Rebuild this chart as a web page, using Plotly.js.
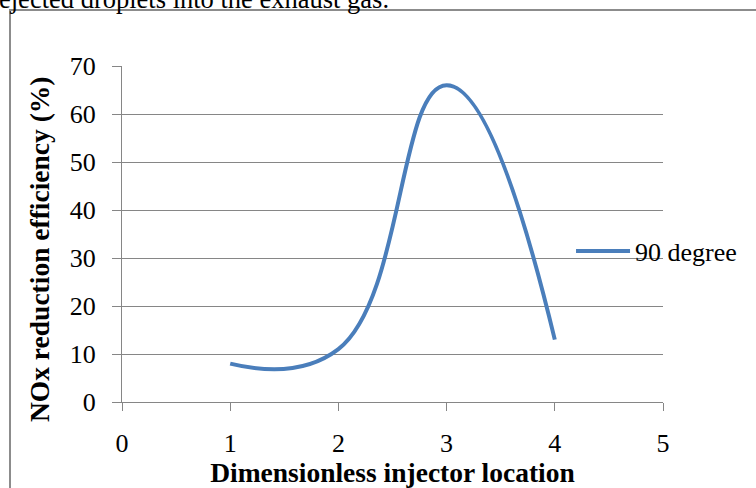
<!DOCTYPE html>
<html>
<head>
<meta charset="utf-8">
<script src="https://cdn.plot.ly/plotly-3.0.1.min.js"></script>
<style>html,body{margin:0;padding:0;background:#fff;}#chart{width:756px;height:488px;}</style>
</head>
<body>
<div id="chart"></div>
<script>
// Data
const injectorLocation = [1, 2, 3, 4];
const noxReduction = [8, 11, 66, 13];
const seriesName = "90 degree";
const xTicks = [0, 1, 2, 3, 4, 5];
const yTicks = [0, 10, 20, 30, 40, 50, 60, 70];
const xTitle = "Dimensionless injector location";
const yTitle = "NOx reduction efficiency (%)";
const captionText = "ejected droplets into the exhaust gas.";

const FONT = "Liberation Serif";
const AXIS_GREY = "#868686";
const TICK_SIZE = 26;
const TITLE_SIZE = 27.5;

const trace = {
  x: injectorLocation,
  y: noxReduction,
  name: seriesName,
  type: "scatter",
  mode: "lines",
  line: {color: "#4A7EBB", width: 4, shape: "spline", smoothing: 1.3},
  showlegend: true
};

const layout = {
  width: 756,
  height: 488,
  margin: {l: 122, r: 93, t: 66, b: 86},
  paper_bgcolor: "#fff",
  plot_bgcolor: "#fff",
  font: {family: FONT, size: TICK_SIZE, color: "#000"},
  showlegend: true,
  legend: {
    x: 0.83, y: (402 - 251) / 336, xanchor: "left", yanchor: "middle",
    itemwidth: 54,
    bgcolor: "rgba(0,0,0,0)", borderwidth: 0,
    font: {family: FONT, size: 26, color: "#000"}
  },
  xaxis: {
    range: [0, 5],
    tickvals: xTicks,
    ticks: "outside", ticklen: 8, tickcolor: AXIS_GREY, tickwidth: 1,
    ticklabelstandoff: 10,
    showline: true, linecolor: AXIS_GREY, linewidth: 1,
    showgrid: false, zeroline: false,
    tickfont: {family: FONT, size: TICK_SIZE, color: "#000"},
    title: {text: xTitle, font: {family: FONT, size: TITLE_SIZE, color: "#000", weight: "bold"}, standoff: 1}
  },
  yaxis: {
    range: [0, 70],
    tickvals: yTicks,
    ticks: "outside", ticklen: 9, tickcolor: AXIS_GREY, tickwidth: 1,
    ticklabelstandoff: 11,
    showline: true, linecolor: AXIS_GREY, linewidth: 1,
    showgrid: true, gridcolor: AXIS_GREY, gridwidth: 1, zeroline: false,
    tickfont: {family: FONT, size: TICK_SIZE, color: "#000"}
  },
  shapes: [{
    type: "rect", xref: "paper", yref: "paper",
    x0: (10 - 122) / 541, x1: 1.4,
    y0: -0.5, y1: (402 - 10) / 336,
    line: {color: "#8c8c8c", width: 2}, fillcolor: "rgba(0,0,0,0)"
  }],
  annotations: [{
    text: captionText, xref: "paper", yref: "paper",
    x: (-3 - 122) / 541, y: (402 - 16) / 336,
    xanchor: "left", yanchor: "bottom", showarrow: false,
    font: {family: FONT, size: 26.5, color: "#000"}
  }, {
    text: yTitle, xref: "paper", yref: "paper",
    x: (39 - 122) / 541, y: (402 - 250) / 336,
    xanchor: "center", yanchor: "middle", textangle: -90, showarrow: false,
    font: {family: FONT, size: TITLE_SIZE, color: "#000", weight: "bold"}
  }]
};

Plotly.newPlot("chart", [trace], layout, {displayModeBar: false, staticPlot: true});
</script>
</body>
</html>
